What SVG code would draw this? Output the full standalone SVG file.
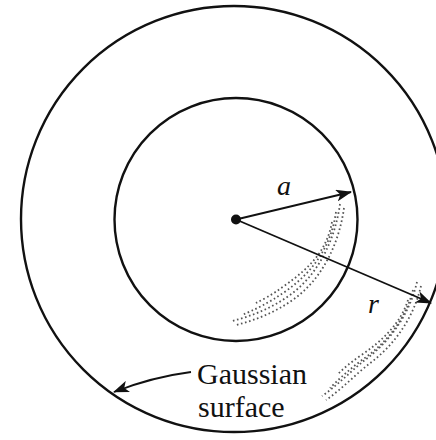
<svg xmlns="http://www.w3.org/2000/svg" width="436" height="440" viewBox="0 0 436 440">
<style>
.circ{fill:none;stroke:#111;stroke-width:2.4}
.ln{fill:none;stroke:#111;stroke-width:1.8}
.dots{fill:none;stroke:#555;stroke-width:1.8;stroke-dasharray:1.6 2.6;stroke-linecap:butt}
</style>
<defs>
<marker id="ah" markerWidth="16" markerHeight="12" refX="15" refY="6" orient="auto" markerUnits="userSpaceOnUse">
<path d="M0,0 L16,6 L0,12 L4,6 Z" fill="#111"/>
</marker>
</defs>
<rect width="436" height="440" fill="#fff"/>
<g id="shading">
<path class="dots" d="M340,204 C335,240 318,275 290,295 C272,308 252,316 232,321"/>
<path class="dots" d="M344,208 C339,244 322,279 294,299 C276,312 256,320 236,325"/>
<path class="dots" d="M336,212 C331,246 314,271 286,291 C269,303 254,310 242,315"/>
<path class="dots" d="M332,222 C327,250 310,268 284,286 C272,295 262,300 254,304"/>
<path class="dots" d="M417,282 C410,312 392,340 365,360 C352,370 338,385 322,396"/>
<path class="dots" d="M421,286 C414,316 396,344 369,364 C356,374 342,389 326,400"/>
<path class="dots" d="M413,290 C406,318 388,342 362,360 C350,369 340,378 330,388"/>
<path class="dots" d="M408,300 C401,322 384,340 360,356 C350,363 344,368 338,374"/>
</g>
<g id="outer-sphere"><circle class="circ" cx="234" cy="219" r="213"/></g>
<g id="inner-sphere"><circle class="circ" cx="236" cy="219.5" r="121.5"/></g>
<g id="center"><circle cx="236" cy="219.5" r="5" fill="#111"/></g>
<g id="connectors">
<line class="ln" x1="236" y1="219.5" x2="351" y2="192" marker-end="url(#ah)"/>
<line class="ln" x1="236" y1="219.5" x2="431" y2="303" marker-end="url(#ah)"/>
<path class="ln" d="M191,372 Q152,377 114,392" marker-end="url(#ah)"/>
</g>
<g font-family="Liberation Serif, DejaVu Serif, serif" fill="#111">
<g id="label-a"><text x="277" y="195" font-size="28" font-style="italic">a</text></g>
<g id="label-r"><text x="368" y="313" font-size="28" font-style="italic">r</text></g>
<g id="label-gaussian">
<text x="197" y="384" font-size="30">Gaussian</text>
<text x="198" y="417" font-size="30">surface</text>
</g>
</g>
</svg>
